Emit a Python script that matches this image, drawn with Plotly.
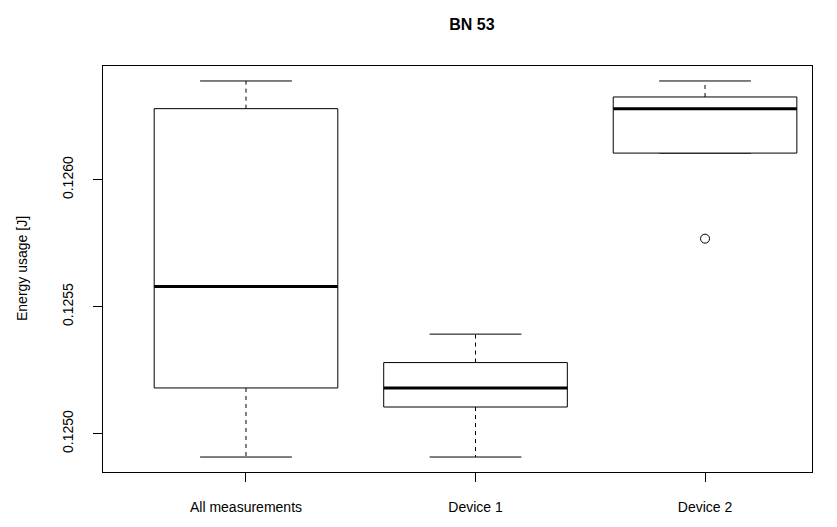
import plotly.graph_objects as go

categories = ["All measurements", "Device 1", "Device 2"]
lower_whisker = [0.124908, 0.124908, 0.126105]
q1 = [0.125180, 0.125105, 0.126105]
medians = [0.125580, 0.125180, 0.126280]
q3 = [0.126280, 0.125280, 0.126326]
upper_whisker = [0.126389, 0.125392, 0.126389]
outliers = [[], [], [0.125768]]
y_ticks = [0.1250, 0.1255, 0.1260]

HW = 0.4   # half box width
CW = 0.2   # half cap width
fig = go.Figure()
for i, cat in enumerate(categories):
    x = i + 1
    line = dict(color="black", width=1)
    fig.add_trace(go.Scatter(x=[x, x], y=[q3[i], upper_whisker[i]], mode="lines",
                             line=dict(color="black", width=1, dash="4px,4px"), hoverinfo="skip"))
    fig.add_trace(go.Scatter(x=[x, x], y=[q1[i], lower_whisker[i]], mode="lines",
                             line=dict(color="black", width=1, dash="4px,4px"), hoverinfo="skip"))
    fig.add_trace(go.Scatter(x=[x - CW, x + CW], y=[upper_whisker[i]] * 2, mode="lines", line=line, hoverinfo="skip"))
    fig.add_trace(go.Scatter(x=[x - CW, x + CW], y=[lower_whisker[i]] * 2, mode="lines", line=line, hoverinfo="skip"))
    fig.add_trace(go.Scatter(x=[x - HW, x + HW, x + HW, x - HW, x - HW],
                             y=[q1[i], q1[i], q3[i], q3[i], q1[i]],
                             mode="lines", line=line, fill="toself", fillcolor="white", hoverinfo="skip"))
    fig.add_trace(go.Scatter(x=[x - HW, x + HW], y=[medians[i]] * 2, mode="lines",
                             line=dict(color="black", width=3), hoverinfo="skip"))
    if outliers[i]:
        fig.add_trace(go.Scatter(x=[x] * len(outliers[i]), y=outliers[i], mode="markers",
                                 marker=dict(symbol="circle-open", size=9, color="black", line=dict(width=1)),
                                 hoverinfo="skip"))

W, H = 837, 527
L, R, T, B = 103, 25, 66, 51
fig.update_layout(
    width=W, height=H, showlegend=False,
    margin=dict(l=L, r=R, t=T, b=B, pad=0),
    paper_bgcolor="white", plot_bgcolor="white",
    font=dict(family="Liberation Sans, Arial, sans-serif", size=14, color="black"),
    title=dict(text="<b>BN 53</b>", x=472 / W, xanchor="center",
               y=1 - 24 / H, yanchor="middle", font=dict(size=16)),
    xaxis=dict(range=[0.377, 3.466], tickmode="array", tickvals=[1, 2, 3], ticktext=categories,
               showgrid=False, zeroline=False, showline=True, mirror=True, linecolor="black", linewidth=1,
               ticks="outside", ticklen=9, tickcolor="black", ticklabelstandoff=13),
    yaxis=dict(range=[0.124849, 0.126448], tickmode="array", tickvals=y_ticks,
               ticktext=[f"{v:.4f}" for v in y_ticks], tickangle=-90,
               showgrid=False, zeroline=False, showline=True, mirror=True, linecolor="black", linewidth=1,
               ticks="outside", ticklen=9, tickcolor="black", ticklabelstandoff=14),
    annotations=[dict(text="Energy usage [J]", textangle=-90, xref="paper", yref="paper",
                      x=(22 - L) / (W - L - R), y=0.5, xanchor="center", yanchor="middle",
                      showarrow=False, font=dict(size=14))],
)
fig.write_html("out.html")
